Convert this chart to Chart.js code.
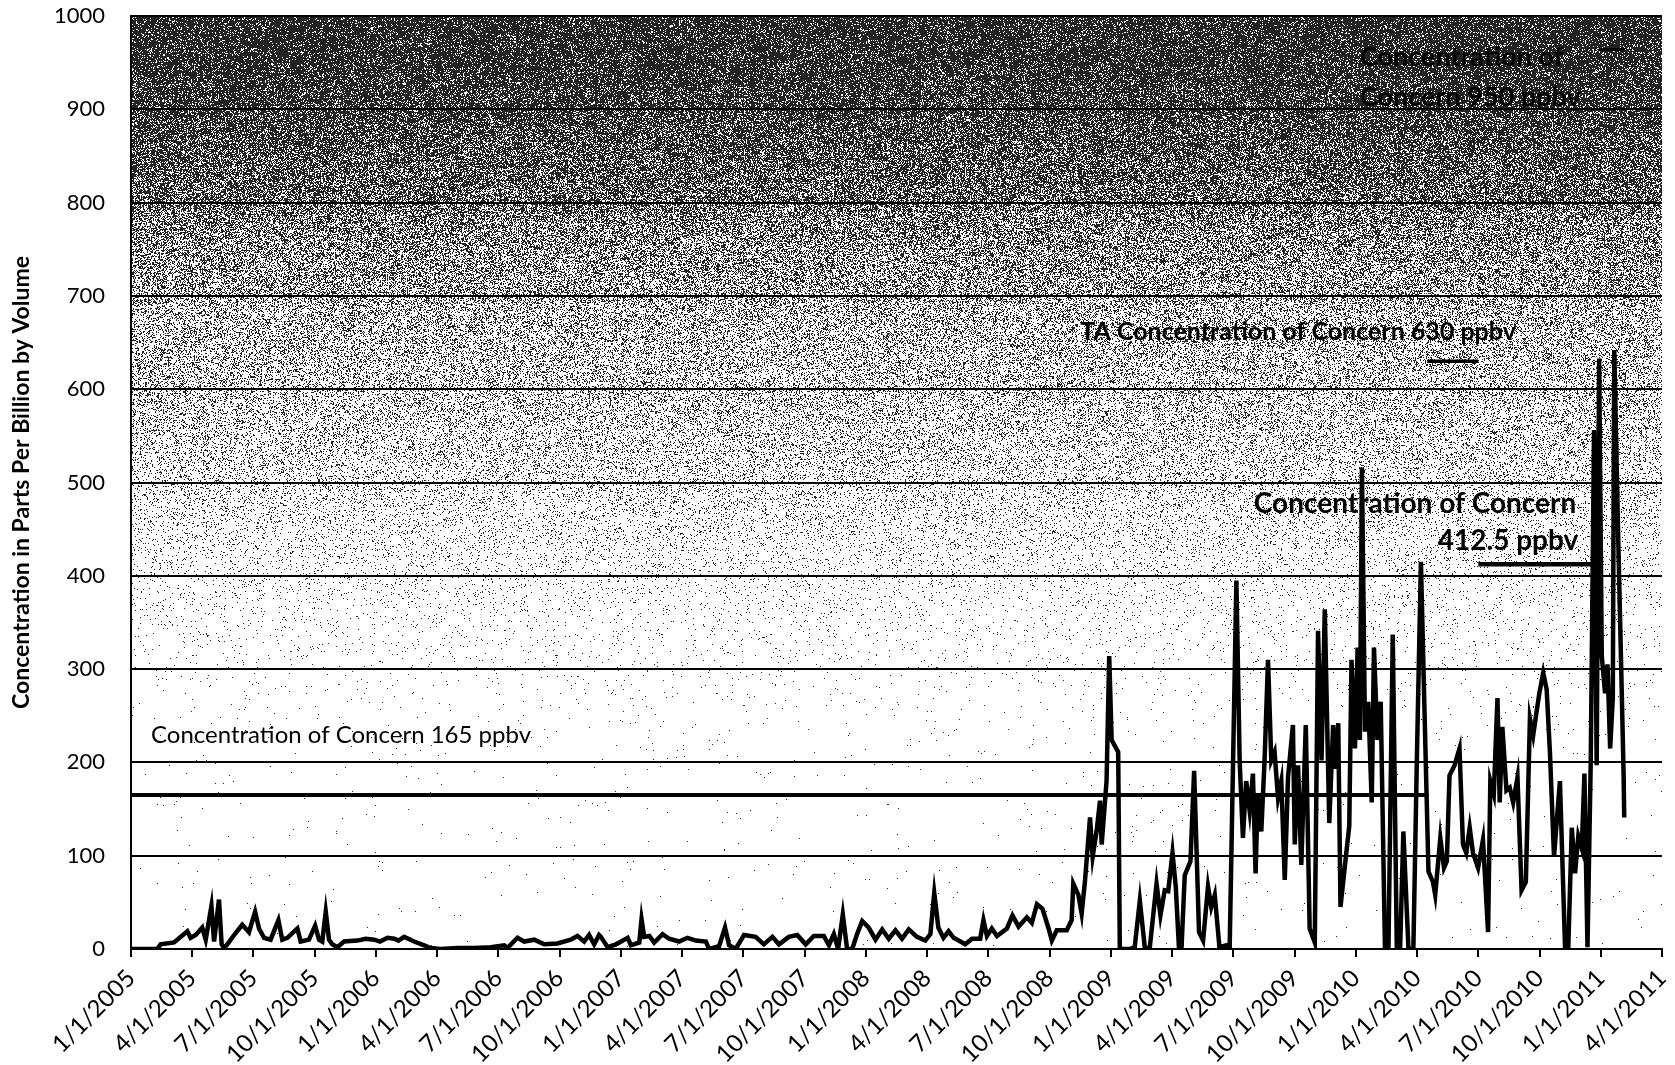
<!DOCTYPE html>
<html>
<head>
<meta charset="utf-8">
<script src="https://cdn.jsdelivr.net/npm/chart.js@4.4.1/dist/chart.umd.min.js"></script>
<style>
  html, body { margin: 0; padding: 0; background: #fff; }
  #wrap { width: 1675px; height: 1065px; }
</style>
</head>
<body>
<div id="wrap"><canvas id="concChart" width="1675" height="1065"></canvas></div>
<script>
// quarterly tick labels on the date axis
const tickLabels = [
  '1/1/2005', '4/1/2005', '7/1/2005', '10/1/2005',
  '1/1/2006', '4/1/2006', '7/1/2006', '10/1/2006',
  '1/1/2007', '4/1/2007', '7/1/2007', '10/1/2007',
  '1/1/2008', '4/1/2008', '7/1/2008', '10/1/2008',
  '1/1/2009', '4/1/2009', '7/1/2009', '10/1/2009',
  '1/1/2010', '4/1/2010', '7/1/2010', '10/1/2010',
  '1/1/2011', '4/1/2011'
];

// sample time, in months since 1/1/2005
const sampleMonth = [
  0, 1.29, 1.45, 2.11, 2.76, 2.92, 3.17, 3.49, 3.66, 3.94, 4.07, 4.31, 4.44, 4.56, 4.72,
  5.05, 5.45, 5.78, 6.08, 6.27, 6.52, 6.84, 7.22, 7.41, 7.66, 8.15, 8.31, 8.72, 9.02,
  9.21, 9.37, 9.54, 9.70, 9.86, 10.11, 10.44, 11.09, 11.5, 11.91, 12.2, 12.56, 12.9, 13.1,
  13.38, 13.87, 14.36, 14.68, 15.17, 15.99, 16.81, 17.62, 18.28, 18.44, 18.93, 19.26,
  19.75, 20.24, 20.89, 21.54, 21.87, 22.20, 22.44, 22.69, 22.93,
  23.02, 23.35, 23.76, 24.33, 24.49, 24.9, 25.01, 25.14, 25.39, 25.63, 26.04, 26.36,
  26.85, 27.26, 27.67, 28.16, 28.32, 28.81, 29.10, 29.3, 29.62, 30.03, 30.6, 31.0,
  31.42, 31.74, 32.23, 32.64, 33.05, 33.45, 33.94, 34.19, 34.43, 34.64, 34.87, 35.08,
  35.33, 35.57, 35.82, 36.14, 36.47, 36.8, 37.12, 37.45, 37.77, 38.1, 38.5, 38.91,
  39.16, 39.35, 39.55, 39.8, 40.05, 40.3, 40.87, 41.2, 41.6, 41.76, 41.93, 42.17,
  42.42, 42.91, 43.18, 43.48, 43.89, 44.13, 44.38, 44.65, 44.95, 45.11, 45.35,
  45.84, 46.08, 46.16, 46.41, 46.57, 46.73, 46.98, 47.11, 47.30, 47.47, 47.55, 47.79,
  47.92, 48.04, 48.36, 48.44, 48.93, 49.17, 49.42, 49.67, 49.91, 50.24, 50.43, 50.64,
  50.81, 51.02, 51.18, 51.34, 51.46, 51.62, 51.90, 52.08, 52.32, 52.52, 52.76, 52.92,
  53.09, 53.32, 53.66, 53.82, 54.15, 54.31, 54.47, 54.63, 54.80, 54.96,
  55.09, 55.20, 55.37, 55.53, 55.70, 55.86, 56.02, 56.19, 56.35, 56.52, 56.68, 56.92,
  57.01, 57.17, 57.33, 57.55, 57.74, 57.99, 58.15, 58.32, 58.48, 58.70, 58.89, 59.02,
  59.14, 59.25, 59.47, 59.68, 59.79, 59.96, 60.09, 60.20, 60.30, 60.45, 60.61, 60.78,
  60.89, 61.06, 61.22, 61.43, 61.60, 61.81, 62.01, 62.17, 62.33, 62.58, 62.82, 62.99,
  63.19, 63.35, 63.56, 63.78, 63.89, 64.14, 64.32, 64.46,
  64.59, 64.84, 65.08, 65.25, 65.41, 65.58, 65.74, 65.99, 66.23, 66.48, 66.59, 66.76,
  66.94, 67.05, 67.18, 67.38, 67.54, 67.71, 67.92, 68.12, 68.33, 68.53, 68.69, 68.82,
  68.99, 69.18, 69.35, 69.51, 69.71, 69.87, 70.00, 70.25, 70.41, 70.58, 70.74, 70.90,
  71.07, 71.20, 71.35, 71.51, 71.67, 71.80, 71.92, 72.05, 72.21, 72.33, 72.46, 72.59,
  72.66, 72.87, 73.03, 73.12, 73.15
];

// concentration in ppbv
const concentration = [
  0, 0, 5, 7, 19, 12, 15, 23, 10, 46, 8, 53, 5, 1, 5,
  15, 26, 18, 40, 22, 12, 10, 31, 10, 12, 22, 8, 10, 25,
  10, 8, 40, 10, 5, 2, 8, 9, 11, 10, 8, 12, 11, 9,
  13, 8, 4, 1, 0, 1, 1, 2, 4, 1, 12, 8,
  10, 5, 6, 10, 14, 8, 15, 5, 15,
  13, 2, 5, 12, 4, 7, 32, 13, 14, 7, 16, 11,
  8, 12, 9, 8, 0, 3, 23, 4, 0, 15, 13, 5,
  13, 5, 13, 15, 5, 14, 14, 4, 16, 0, 37, 0,
  0, 16, 30, 23, 10, 21, 11, 20, 11, 21, 13, 9,
  16, 60, 23, 12, 19, 12, 5, 11, 11, 31, 14, 22,
  14, 22, 36, 24, 34, 28, 48, 43, 22, 9, 20,
  20, 31, 70, 58, 38, 72, 141, 99, 126, 159, 112, 180,
  314, 224, 211, 0, 0, 2, 52, 0, 2, 70, 36, 63,
  62, 103, 67, 0, 0, 79, 94, 191, 18, 9, 67, 45,
  58, 2, 4, 0, 395, 202, 119, 180, 148, 188,
  81, 166, 126, 202, 310, 202, 211, 162, 180, 74, 184, 240,
  112, 197, 90, 240, 22, 7, 341, 202, 364, 135, 240, 193,
  242, 45, 90, 132, 310, 215, 323, 224, 516, 233, 265, 157,
  323, 224, 265, 0, 0, 337, 0, 0, 126, 0, 0, 202,
  415, 269, 83, 72, 58, 119, 87, 94,
  186, 197, 215, 112, 103, 130, 103, 87, 117, 18, 180, 166,
  269, 157, 238, 170, 173, 157, 184, 63, 72, 247, 229, 249,
  274, 296, 278, 211, 99, 144, 180, 2, 2, 130, 81, 121,
  108, 188, 2, 202, 556, 197, 633, 314, 274, 305, 215, 269,
  642, 426, 274, 186, 141
];

// concern levels drawn as short horizontal reference segments
const concernLevel = [165, 412.5, 630, 964];
const concernFrom = [0, 66.0, 63.5, 71.9];
const concernTo = [63.55, 71.8, 66.0, 73.2];
const concernWidth = [4, 4.5, 3.5, 3];

// scanned-looking shading of the plot area: share of dark specks by value
const shadeValue = [1000, 950, 900, 850, 800, 790, 750, 700, 690, 650, 600, 550, 500, 450, 400, 350, 300, 250, 200, 0];
const shadeDark  = [0.86, 0.84, 0.78, 0.70, 0.63, 0.55, 0.47, 0.40, 0.33, 0.30, 0.26, 0.21, 0.15, 0.10, 0.055, 0.025, 0.01, 0.004, 0.002, 0.001];

const FONT = 'Lato, "Open Sans", sans-serif';

function darkAt(v) {
  for (let k = 1; k < shadeValue.length; k++) {
    if (v >= shadeValue[k]) {
      const t = (v - shadeValue[k]) / (shadeValue[k - 1] - shadeValue[k]);
      return shadeDark[k] + t * (shadeDark[k - 1] - shadeDark[k]);
    }
  }
  return shadeDark[shadeDark.length - 1];
}

// fixed integer hash, so the speckle is the same on every render
function speck(i, j) {
  let n = Math.imul(i, 374761393) + Math.imul(j, 668265263);
  n = Math.imul(n ^ (n >>> 13), 1274126177);
  n ^= n >>> 16;
  return (n >>> 0) / 4294967296;
}

const shadePlugin = {
  id: 'shade',
  beforeDraw(chart) {
    const ctx = chart.ctx;
    const area = chart.chartArea;
    const y = chart.scales.y;
    const left = Math.round(area.left), top = Math.round(area.top);
    const w = Math.round(area.right) - left, h = Math.round(area.bottom) - top;
    const img = ctx.createImageData(w, h);
    for (let j = 0; j < h; j++) {
      const d = darkAt(y.getValueForPixel(top + j));
      for (let i = 0; i < w; i++) {
        const c = speck(i, j) < d ? 35 : 255;
        const p = (j * w + i) * 4;
        img.data[p] = c; img.data[p + 1] = c; img.data[p + 2] = c; img.data[p + 3] = 255;
      }
    }
    ctx.putImageData(img, left, top);
  }
};

const notePlugin = {
  id: 'notes',
  afterDatasetsDraw(chart) {
    const ctx = chart.ctx;
    const x = chart.scales.x;
    const y = chart.scales.y;
    function note(text, m, v, size, weight, align) {
      ctx.save();
      ctx.font = weight + ' ' + size + 'px ' + FONT;
      ctx.fillStyle = '#000';
      ctx.textAlign = align;
      ctx.textBaseline = 'middle';
      ctx.fillText(text, x.getPixelForValue(m), y.getPixelForValue(v));
      ctx.restore();
    }
    note('Concentration of Concern 165 ppbv', 0.98, 229, 24, 'normal', 'left');
    note('TA Concentration of Concern 630 ppbv', 46.5, 661, 25, 'bold', 'left');
    note('Concentration of Concern', 70.8, 477, 28, 'bold', 'right');
    note('412.5 ppbv', 70.9, 437, 28, 'bold', 'right');
    note('Concentration of', 60.2, 956, 27, 'bold', 'left');
    note('Concern 950 ppbv', 60.2, 913, 27, 'bold', 'left');
  }
};

(function(){
  const points = sampleMonth.map(function(m, i){ return { x: m, y: concentration[i] }; });
  const datasets = [{
    data: points,
    borderColor: '#000',
    borderWidth: 4.5,
    pointRadius: 0,
    tension: 0,
    fill: false
  }];
  concernLevel.forEach(function(level, i){
    datasets.push({
      data: [{ x: concernFrom[i], y: level }, { x: concernTo[i], y: level }],
      borderColor: '#000',
      borderWidth: concernWidth[i],
      pointRadius: 0,
      fill: false
    });
  });

  const ctx = document.getElementById('concChart').getContext('2d');
  new Chart(ctx, {
    type: 'line',
    data: { datasets: datasets },
    plugins: [shadePlugin, notePlugin],
    options: {
      responsive: false,
      devicePixelRatio: 1,
      animation: false,
      layout: { padding: { top: 16, right: 13, left: 0, bottom: 0 } },
      plugins: {
        legend: { display: false },
        tooltip: { enabled: false }
      },
      scales: {
        x: {
          type: 'linear',
          min: 0,
          max: 75,
          ticks: {
            stepSize: 3,
            autoSkip: false,
            maxRotation: 45,
            minRotation: 45,
            padding: 7,
            color: '#000',
            font: { family: FONT, size: 24 },
            callback: function(v){ return tickLabels[Math.round(v / 3)]; }
          },
          grid: { drawOnChartArea: false, drawTicks: true, tickLength: 8, color: '#000', lineWidth: 2 },
          border: { display: true, color: '#000', width: 2 },
          afterFit(scale) {
            scale.height = 116;
            scale.paddingLeft = 0;
            scale.paddingRight = 0;
          }
        },
        y: {
          min: 0,
          max: 1000,
          ticks: {
            stepSize: 100,
            padding: 2,
            color: '#000',
            font: { family: FONT, size: 22 },
            callback: function(v){ return String(v); }
          },
          grid: { color: '#000', lineWidth: 2, drawTicks: true, tickLength: 24, tickColor: 'rgba(0,0,0,0)' },
          border: { display: true, color: '#000', width: 2 },
          title: {
            display: true,
            text: 'Concentration in Parts Per Billion by Volume',
            color: '#000',
            font: { family: FONT, size: 23, weight: 'bold' },
            padding: { top: 8, bottom: 0 }
          },
          afterFit(scale) { scale.width = 131; }
        }
      }
    }
  });
})();
</script>
</body>
</html>
